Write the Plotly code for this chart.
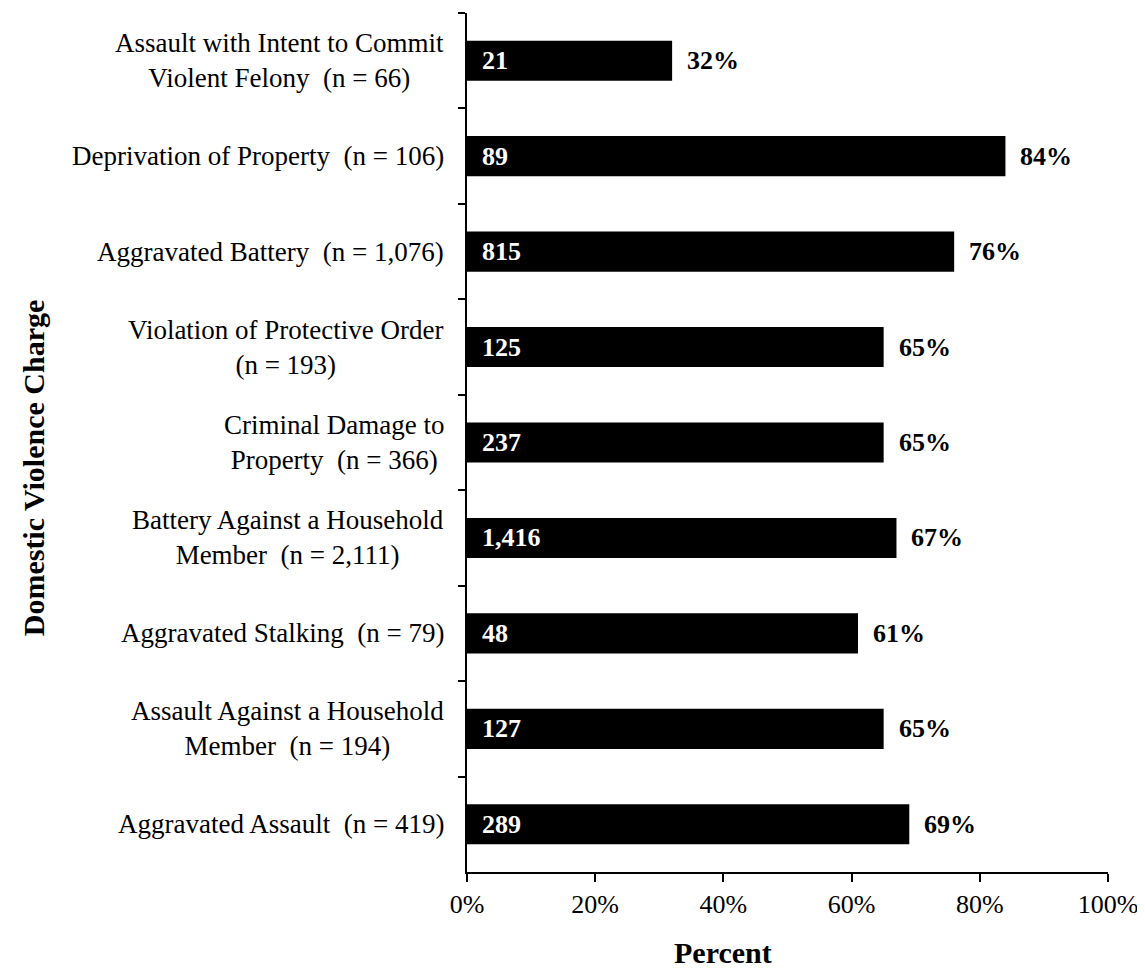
import plotly.graph_objects as go

NB = "\u00a0"

# categories, top to bottom
charges = [
    "Assault with Intent to Commit<br>Violent Felony" + NB + " (n = 66)",
    "Deprivation of Property" + NB + " (n = 106)",
    "Aggravated Battery" + NB + " (n = 1,076)",
    "Violation of Protective Order<br>(n = 193)",
    "Criminal Damage to<br>Property" + NB + " (n = 366)",
    "Battery Against a Household<br>Member" + NB + " (n = 2,111)",
    "Aggravated Stalking" + NB + " (n = 79)",
    "Assault Against a Household<br>Member" + NB + " (n = 194)",
    "Aggravated Assault" + NB + " (n = 419)",
]
counts = ["21", "89", "815", "125", "237", "1,416", "48", "127", "289"]
percents = [32, 84, 76, 65, 65, 67, 61, 65, 69]
x_ticks = [0, 20, 40, 60, 80, 100]

FONT = "Liberation Serif, Times New Roman, serif"

fig = go.Figure()
fig.add_trace(go.Bar(
    y=charges, x=percents, orientation="h",
    marker=dict(color="#000000", line=dict(width=0)),
    hoverinfo="skip",
))

annotations = []
for cat, n, p in zip(charges, counts, percents):
    # category label, lines centred in the block, block right-aligned
    annotations.append(dict(
        x=0, xref="paper", y=cat, yref="y", text=cat, showarrow=False,
        xanchor="right", yanchor="middle", align="center", xshift=-21,
        font=dict(family=FONT, size=27, color="#000000"),
    ))
    # count inside bar
    annotations.append(dict(
        x=0, xref="x", y=cat, yref="y", text="<b>%s</b>" % n, showarrow=False,
        xanchor="left", yanchor="middle", xshift=13,
        font=dict(family=FONT, size=26, color="#ffffff"),
    ))
    # percent beyond bar end
    annotations.append(dict(
        x=p, xref="x", y=cat, yref="y", text="<b>%d%%</b>" % p, showarrow=False,
        xanchor="left", yanchor="middle", xshift=13,
        font=dict(family=FONT, size=26, color="#000000"),
    ))

annotations.append(dict(
    x=0, xref="paper", y=0.47, yref="paper", text="<b>Domestic Violence Charge</b>",
    textangle=-90, showarrow=False, xanchor="center", yanchor="middle", xshift=-434,
    font=dict(family=FONT, size=30, color="#000000"),
))
annotations.append(dict(
    x=0.4, xref="paper", y=0, yref="paper", text="<b>Percent</b>",
    showarrow=False, xanchor="center", yanchor="middle", yshift=-80,
    font=dict(family=FONT, size=30, color="#000000"),
))

# page body adds an 8px margin, so the figure is a little smaller than the window
fig.update_layout(
    width=1137, height=960,
    margin=dict(l=459, r=37, t=5, b=96, autoexpand=False),
    paper_bgcolor="#ffffff", plot_bgcolor="#ffffff",
    font=dict(family=FONT, size=27, color="#000000"),
    bargap=0.58, showlegend=False,
    annotations=annotations,
)
fig.update_xaxes(
    range=[0, 100], tickvals=x_ticks, ticktext=["%d%%" % v for v in x_ticks],
    showgrid=False, zeroline=False, automargin=False,
    showline=True, linecolor="#000000", linewidth=2,
    ticks="outside", ticklen=8, tickwidth=2, tickcolor="#000000",
    tickfont=dict(family=FONT, size=26, color="#000000"),
)
fig.update_yaxes(
    autorange="reversed", showgrid=False, zeroline=False, automargin=False,
    showline=True, linecolor="#000000", linewidth=2,
    ticks="outside", tickson="boundaries", ticklen=7, tickwidth=2, tickcolor="#000000",
    showticklabels=False,
)

fig.write_html("out.html")
